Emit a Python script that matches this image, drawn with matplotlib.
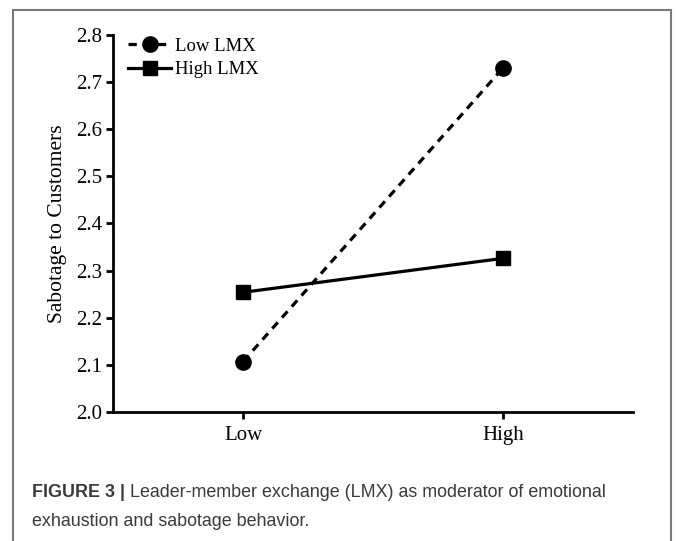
import matplotlib
matplotlib.use("Agg")
import matplotlib.pyplot as plt
from matplotlib.patches import Rectangle

# data
levels = ["Low", "High"]
low_lmx = [2.107, 2.730]
high_lmx = [2.254, 2.326]
yticks = [2.0, 2.1, 2.2, 2.3, 2.4, 2.5, 2.6, 2.7, 2.8]

serif = ["Liberation Serif", "DejaVu Serif"]

fig = plt.figure(figsize=(6.78, 5.41), dpi=100)
ax = fig.add_axes([0.1667, 0.2384, 0.767, 0.697])

x = list(range(len(levels)))
ax.plot(x, low_lmx, color="black", lw=2.3, ls=(0, (2.6, 2.0)),
        marker="o", markersize=11, label="Low LMX")
ax.plot(x, high_lmx, color="black", lw=2.3, ls="-",
        marker="s", markersize=10, label="High LMX")

ax.set_xlim(-0.5, 1.5)
ax.set_ylim(2.0, 2.8)
ax.set_xticks(x)
ax.set_xticklabels(levels, fontsize=15, family=serif)
ax.set_yticks(yticks)
ax.set_yticklabels([f"{v:.1f}" for v in yticks], fontsize=15, family=serif)
ax.set_ylabel("Sabotage to Customers", fontsize=15.5, family=serif, labelpad=6)

for side in ["top", "right"]:
    ax.spines[side].set_visible(False)
for side in ["left", "bottom"]:
    ax.spines[side].set_linewidth(2.0)
ax.tick_params(axis="both", width=2.0, length=5, direction="out", pad=3)
ax.tick_params(axis="x", pad=5)

leg = ax.legend(loc="upper left", bbox_to_anchor=(0.015, 1.012), frameon=False,
                prop={"family": serif, "size": 13.5}, handlelength=2.3,
                handletextpad=0.2, labelspacing=0.32, borderaxespad=0)

# frame around the figure panel
fig.patches.append(Rectangle((13 / 678, -0.01), (671 - 13) / 678, (541 - 10) / 541 + 0.01,
                             transform=fig.transFigure, fill=False,
                             edgecolor="#7a7a7a", lw=1.5))

# caption
cap_color = "#3a3a3a"
sans = ["Liberation Sans", "DejaVu Sans"]
t1 = fig.text(32 / 678, 1 - 497 / 541, "FIGURE 3 |", fontsize=12.9, weight="bold",
              family=sans, color=cap_color, va="baseline")
ax.annotate(" Leader-member exchange (LMX) as moderator of emotional",
            xy=(1, 0), xycoords=t1, va="bottom", fontsize=12.9,
            family=sans, color=cap_color)
fig.text(32 / 678, 1 - 526 / 541, "exhaustion and sabotage behavior.", fontsize=12.9,
         family=sans, color=cap_color, va="baseline")

fig.savefig("out.png", dpi=100)
